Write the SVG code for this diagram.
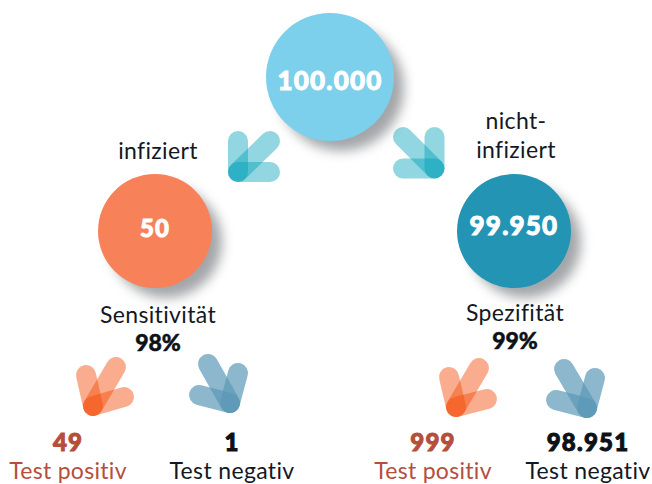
<svg xmlns="http://www.w3.org/2000/svg" width="652" height="484" viewBox="0 0 652 484">
<style>
text{font-family:Lato,"Noto Sans","Liberation Sans",sans-serif;text-anchor:middle}
.l{font-size:23px;fill:#14181f;letter-spacing:.35px}
.pc{font-size:23px;font-weight:900;fill:#0d1118;stroke:#0d1118;stroke-width:.5}
.n{font-size:24px;font-weight:900;fill:#0d1118;stroke:#0d1118;stroke-width:1;letter-spacing:1.2px}
.c{font-size:26px;font-weight:900;fill:#fff;stroke:#fff;stroke-width:.9;letter-spacing:1.2px}
.p{fill:#b54e3d}
.n.p{stroke:#b54e3d}
.t{font-size:23px;letter-spacing:.3px}
.b{fill:none;stroke-width:20;stroke-linecap:round}
.cy{stroke:#00a0b7;stroke-opacity:.43}
.or{stroke:#f44904;stroke-opacity:.45}
.bl{stroke:#5b98b6;stroke-opacity:.7}
</style>
<defs>
<filter id="s" x="-30%" y="-30%" width="170%" height="170%"><feGaussianBlur stdDeviation="6"/></filter>
</defs>
<g id="connectors">
<g id="arrow-left"><path class="b cy" d="M238 141V172"/><path class="b cy" d="M238 172H270"/><path class="b cy" d="M270 141L238 172"/></g>
<g id="arrow-right"><path class="b cy" d="M434.500 137V168.500"/><path class="b cy" d="M434.500 168.500H403"/><path class="b cy" d="M403 137L434.500 168.500"/></g>
<g id="arrow-pos-1"><path class="b or" d="M86 375L93 406"/><path class="b or" d="M116 367L93 406"/><path class="b or" d="M124 397L93 406"/></g>
<g id="arrow-neg-1"><path class="b bl" d="M238 373L230 403"/><path class="b bl" d="M208 364L230 403"/><path class="b bl" d="M199 395L230 403"/></g>
<g id="arrow-pos-2"><path class="b or" d="M449 377L456 407"/><path class="b or" d="M479 368L456 407"/><path class="b or" d="M487 399L456 407"/></g>
<g id="arrow-neg-2"><path class="b bl" d="M595 378L587 408"/><path class="b bl" d="M564 369L587 408"/><path class="b bl" d="M556 400L587 408"/></g>
</g>
<g id="node-total">
<circle cx="341" cy="88" r="63" fill="#85898d" opacity=".75" filter="url(#s)"/>
<circle cx="330" cy="77" r="64" fill="#7cd0eb"/>
<text class="c" x="330" y="90">100.000</text>
</g>
<g id="node-infected">
<circle cx="166" cy="242" r="56" fill="#85898d" opacity=".75" filter="url(#s)"/>
<circle cx="155" cy="231" r="57" fill="#f7825a"/>
<text class="c" x="155" y="237" style="font-size:24px">50</text>
</g>
<g id="node-not-infected">
<circle cx="525" cy="242" r="56" fill="#85898d" opacity=".75" filter="url(#s)"/>
<circle cx="514" cy="231" r="57" fill="#2494b5"/>
<text class="c" x="514" y="235">99.950</text>
</g>
<g id="label-infiziert"><text class="l" x="158" y="159">infiziert</text></g>
<g id="label-nicht"><text class="l" x="516" y="129">nicht-</text><text class="l" x="516" y="158">infiziert</text></g>
<g id="label-sens"><text class="l" x="158" y="323">Sensitivität</text><text class="pc" x="158" y="351">98%</text></g>
<g id="label-spez"><text class="l" x="515" y="321">Spezifität</text><text class="pc" x="515" y="349">99%</text></g>
<g id="result-1"><text class="n p" x="68" y="450.500">49</text><text class="t p" x="68" y="478.600">Test positiv</text></g>
<g id="result-2"><text class="n" x="232" y="450.500">1</text><text class="l" x="232" y="478.600">Test negativ</text></g>
<g id="result-3"><text class="n p" x="433" y="450.500">999</text><text class="t p" x="433" y="478.600">Test positiv</text></g>
<g id="result-4"><text class="n" x="588" y="450.500">98.951</text><text class="l" x="588" y="478.600">Test negativ</text></g>
</svg>
